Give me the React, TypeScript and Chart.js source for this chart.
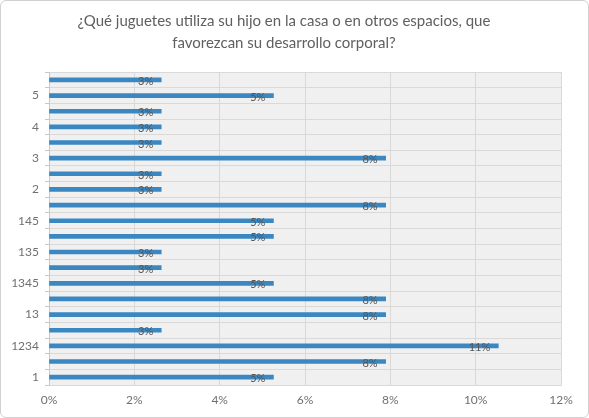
import { useEffect, useRef } from "react";
import { Chart, registerables } from "chart.js";

Chart.register(...registerables);

// categories listed bottom to top (as in the picture); only every other one has a visible label
const categories = [
  "1", "12", "1234", "124", "13", "134", "1345", "1346", "135", "14",
  "145", "15", "2", "23", "3", "34", "4", "45", "5", "6",
];
// percentage of answers per category
const values = [
  5.26, 7.89, 10.53, 2.63, 7.89, 7.89, 5.26, 2.63, 2.63, 5.26,
  5.26, 7.89, 2.63, 2.63, 7.89, 2.63, 2.63, 2.63, 5.26, 2.63,
];
const titleLines = [
  "¿Qué juguetes utiliza su hijo en la casa o en otros espacios, que",
  "favorezcan su desarrollo corporal?",
];
const xTicks = [0, 2, 4, 6, 8, 10, 12];

const FONT = "Lato, 'Open Sans', sans-serif";

const plotBg = {
  id: "plotBg",
  beforeDraw(chart: any) {
    const { ctx, chartArea: a } = chart;
    ctx.save();
    ctx.fillStyle = "#f0f0f0";
    ctx.fillRect(a.left, a.top, a.right - a.left, a.bottom - a.top);
    ctx.restore();
  },
};

const barLabels = {
  id: "barLabels",
  afterDatasetsDraw(chart: any) {
    const { ctx } = chart;
    const meta = chart.getDatasetMeta(0);
    const data = chart.data.datasets[0].data as number[];
    ctx.save();
    ctx.font = `11px ${FONT}`;
    ctx.fillStyle = "#555555";
    ctx.textAlign = "right";
    ctx.textBaseline = "middle";
    meta.data.forEach((bar: any, i: number) => {
      ctx.fillText(`${Math.round(data[i])}%`, bar.x - 8, bar.y + 1.5);
    });
    ctx.restore();
  },
};

const App = () => {
  const canvasRef = useRef<HTMLCanvasElement>(null);

  useEffect(() => {
    if (!canvasRef.current) return;
    const chart = new Chart(canvasRef.current, {
      type: "bar",
      data: {
        labels: [...categories].reverse(),
        datasets: [
          {
            data: [...values].reverse(),
            backgroundColor: "#3a87c2",
            barThickness: 4,
          },
        ],
      },
      options: {
        indexAxis: "y",
        animation: false,
        responsive: true,
        maintainAspectRatio: false,
        layout: { padding: { left: 6, right: 27, top: 6, bottom: 4 } },
        plugins: {
          legend: { display: false },
          tooltip: { enabled: false },
          title: {
            display: true,
            text: titleLines,
            color: "#606060",
            font: { family: FONT, size: 15, weight: "normal", lineHeight: 1.47 },
            padding: { top: 3, bottom: 18 },
          },
        },
        scales: {
          x: {
            min: 0,
            max: 12,
            afterBuildTicks: (scale: any) => {
              scale.ticks = xTicks.map((v) => ({ value: v }));
            },
            afterFit: (scale: any) => {
              scale.height = 28;
            },
            ticks: {
              callback: (v: any) => `${v}%`,
              color: "#707070",
              font: { family: FONT, size: 12 },
              padding: 8,
            },
            grid: { color: "#d9d9d9", drawTicks: false },
            border: { color: "#d9d9d9" },
          },
          y: {
            afterFit: (scale: any) => {
              scale.width = 42;
            },
            ticks: {
              autoSkip: false,
              color: "#707070",
              font: { family: FONT, size: 12 },
              padding: 6,
              callback: function (this: any, _v: any, i: number) {
                const n = categories.length;
                return (n - 1 - i) % 2 === 0 ? this.getLabelForValue(i) : "";
              },
            },
            grid: { color: "#d9d9d9", drawTicks: true, tickLength: 4, tickColor: "#c8c8c8" },
            border: { color: "#c8c8c8" },
          },
        },
      },
      plugins: [plotBg, barLabels],
    });
    return () => chart.destroy();
  }, []);

  return (
    <div
      style={{
        position: "fixed",
        left: 0,
        top: 0,
        width: 589,
        height: 418,
        boxSizing: "border-box",
        border: "1px solid #d0d0d0",
        borderRadius: 6,
        background: "#fff",
      }}
    >
      <canvas ref={canvasRef}></canvas>
    </div>
  );
};

export default App;
